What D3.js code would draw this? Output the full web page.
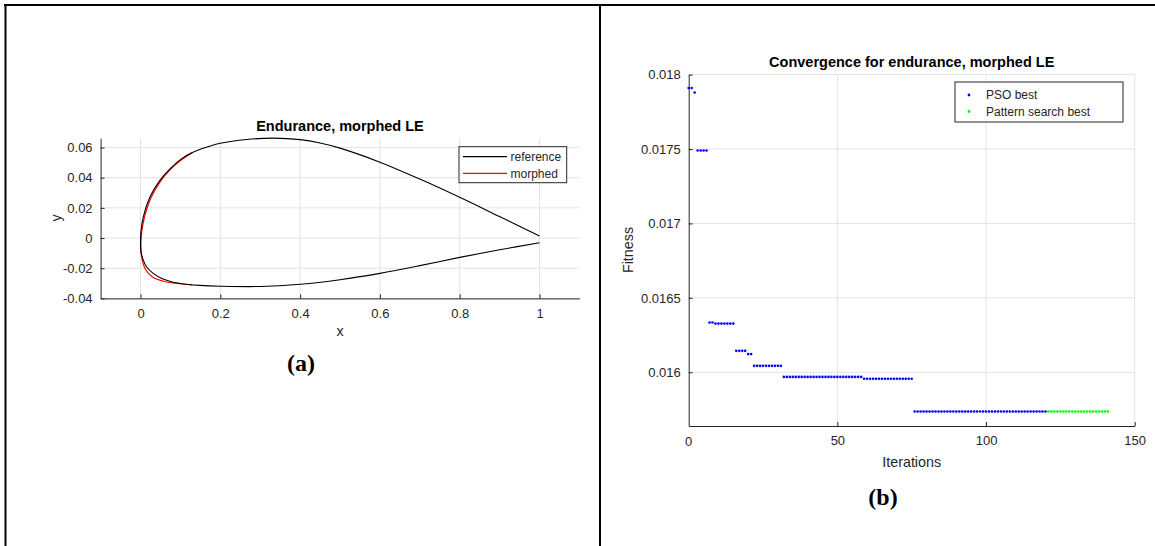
<!DOCTYPE html>
<html>
<head>
<meta charset="utf-8">
<script src="https://cdn.jsdelivr.net/npm/d3@7"></script>
<style>
  body { margin: 0; background: #fff; }
  svg { display: block; font-family: "Liberation Sans", Arial, sans-serif; }
</style>
</head>
<body>
<svg id="fig" width="1155" height="546"></svg>
<script>
// ---- data: panel (a), airfoil coordinates [x, y] ----
const refUpper = [
  [1.0, 0.0013], [0.9, 0.0142], [0.8, 0.0270], [0.7, 0.0391], [0.6, 0.0503],
  [0.5, 0.0596], [0.45, 0.0630], [0.4, 0.0652], [0.333, 0.0662], [0.266, 0.0653],
  [0.2, 0.0628], [0.17, 0.0606], [0.145, 0.0584], [0.12, 0.0554], [0.1, 0.0520],
  [0.075, 0.0462], [0.049, 0.0384], [0.024, 0.0274], [0.007, 0.0141], [0.001, 0.004],
  [0.0, -0.0033]
];
const refLower = [
  [0.001, -0.009], [0.007, -0.0146], [0.015, -0.019], [0.032, -0.0234], [0.055, -0.027],
  [0.082, -0.0293], [0.12, -0.0308], [0.149, -0.0314], [0.2, -0.0319], [0.3, -0.0321],
  [0.4, -0.0306], [0.5, -0.0276], [0.6, -0.0234], [0.7, -0.0183], [0.8, -0.0128],
  [0.9, -0.0078], [1.0, -0.0031]
];
const morphedLE = [
  [0.13, 0.0566], [0.1, 0.0514], [0.075, 0.0455], [0.05, 0.0376],
  [0.026, 0.0266], [0.01, 0.0139], [0.003, 0.004], [0.0008, -0.004], [0.003, -0.0125],
  [0.012, -0.0205], [0.03, -0.0258], [0.06, -0.0288], [0.1, -0.0303], [0.13, -0.0310]
];
const airfoilXTicks = [0, 0.2, 0.4, 0.6, 0.8, 1];
const airfoilYTicks = [-0.04, -0.02, 0, 0.02, 0.04, 0.06];

// ---- data: panel (b), convergence history ----
const psoIter = d3.range(0, 121);
const psoBest = [
  0.01791, 0.01791, 0.01788,
  0.01749, 0.01749, 0.01749, 0.01749,
  0.016334, 0.016334,
  0.016327, 0.016327, 0.016327, 0.016327, 0.016327, 0.016327, 0.016327,
  0.016144, 0.016144, 0.016144, 0.016144,
  0.016122, 0.016122,
  0.016043, 0.016043, 0.016043, 0.016043, 0.016043, 0.016043, 0.016043, 0.016043, 0.016043, 0.016043,
  0.015969, 0.015969, 0.015969, 0.015969, 0.015969, 0.015969, 0.015969, 0.015969, 0.015969, 0.015969,
  0.015969, 0.015969, 0.015969, 0.015969, 0.015969, 0.015969, 0.015969, 0.015969, 0.015969, 0.015969,
  0.015969, 0.015969, 0.015969, 0.015969, 0.015969, 0.015969, 0.015969,
  0.015956, 0.015956, 0.015956, 0.015956, 0.015956, 0.015956, 0.015956, 0.015956, 0.015956, 0.015956,
  0.015956, 0.015956, 0.015956, 0.015956, 0.015956, 0.015956, 0.015956,
  0.015736, 0.015736, 0.015736, 0.015736, 0.015736, 0.015736, 0.015736, 0.015736, 0.015736, 0.015736,
  0.015736, 0.015736, 0.015736, 0.015736, 0.015736, 0.015736, 0.015736, 0.015736, 0.015736, 0.015736,
  0.015736, 0.015736, 0.015736, 0.015736, 0.015736, 0.015736, 0.015736, 0.015736, 0.015736, 0.015736,
  0.015736, 0.015736, 0.015736, 0.015736, 0.015736, 0.015736, 0.015736, 0.015736, 0.015736, 0.015736,
  0.015736, 0.015736, 0.015736, 0.015736, 0.015736
];
const patternIter = d3.range(121, 142);
const patternBest = [
  0.015736, 0.015736, 0.015736, 0.015736, 0.015736, 0.015736, 0.015736,
  0.015736, 0.015736, 0.015736, 0.015736, 0.015736, 0.015736, 0.015736,
  0.015736, 0.015736, 0.015736, 0.015736, 0.015736, 0.015736, 0.015736
];
const convXTicks = [0, 50, 100, 150];
const convYTicks = [0.016, 0.0165, 0.017, 0.0175, 0.018];

const axisColor = "#262626", gridColor = "#e3e3e3";
const svg = d3.select("#fig");
svg.append("rect").attr("width", 1155).attr("height", 546).attr("fill", "#fff");

// MATLAB prints a plain hyphen for negatives
const fmt = d => d3.format("~g")(d).replace("\u2212", "-");

// draws left+bottom axes, inward ticks and grid (MATLAB style, box off)
function drawAxes(g, x, y, xt, yt) {
  const [x0, x1] = x.range(), [y0, y1] = y.range();
  // grid
  g.append("g").selectAll("line").data(xt).join("line")
    .attr("x1", d => x(d)).attr("x2", d => x(d)).attr("y1", y0).attr("y2", y1)
    .attr("stroke", gridColor).attr("stroke-width", 1);
  g.append("g").selectAll("line").data(yt).join("line")
    .attr("x1", x0).attr("x2", x1).attr("y1", d => y(d)).attr("y2", d => y(d))
    .attr("stroke", gridColor).attr("stroke-width", 1);
  // axes
  const xAxis = d3.axisBottom(x).tickValues(xt).tickFormat(fmt).tickSizeInner(-4).tickSizeOuter(0).tickPadding(10);
  const yAxis = d3.axisLeft(y).tickValues(yt).tickFormat(fmt).tickSizeInner(-4).tickSizeOuter(0).tickPadding(8);
  const gx = g.append("g").attr("transform", `translate(0,${y0})`).call(xAxis);
  const gy = g.append("g").attr("transform", `translate(${x0},0)`).call(yAxis);
  [gx, gy].forEach(a => {
    a.select(".domain").attr("stroke", axisColor);
    a.selectAll(".tick line").attr("stroke", axisColor);
    a.selectAll("text").attr("fill", axisColor).style("font-size", "13px")
      .style("font-family", "'Liberation Sans', Arial, sans-serif");
  });
}

// ---------------- panel (a) ----------------
const xa = d3.scaleLinear().domain([-0.1, 1.1]).range([100.6, 579.4]);
const ya = d3.scaleLinear().domain([-0.04, 0.0661]).range([298.4, 138.3]);
const ga = svg.append("g");
drawAxes(ga, xa, ya, airfoilXTicks, airfoilYTicks);

const foilLine = d3.line().x(d => xa(d[0])).y(d => ya(d[1])).curve(d3.curveCatmullRom.alpha(0.5));
ga.append("path").datum(morphedLE).attr("d", foilLine)
  .attr("fill", "none").attr("stroke", "#ff0000").attr("stroke-width", 1.2);
ga.append("path").datum(refUpper.concat(refLower)).attr("d", foilLine)
  .attr("fill", "none").attr("stroke", "#000").attr("stroke-width", 1.1);

ga.append("text").text("Endurance, morphed LE").attr("x", 340).attr("y", 131)
  .attr("text-anchor", "middle").attr("font-weight", "bold").attr("font-size", "14.5px").attr("fill", "#000");
ga.append("text").text("x").attr("x", 340).attr("y", 336)
  .attr("text-anchor", "middle").attr("font-size", "14.3px").attr("fill", axisColor);
ga.append("text").text("y").attr("transform", "translate(61,218) rotate(-90)")
  .attr("text-anchor", "middle").attr("font-size", "14.3px").attr("fill", axisColor);

// legend (a)
const la = ga.append("g").attr("transform", "translate(459,146.7)");
la.append("rect").attr("width", 107.7).attr("height", 36).attr("fill", "#fff")
  .attr("stroke", axisColor).attr("stroke-width", 1);
[["reference", "#000"], ["morphed", "#ff0000"]].forEach(([name, c], i) => {
  const yy = 10 + i * 16.6;
  la.append("line").attr("x1", 4).attr("x2", 48).attr("y1", yy).attr("y2", yy)
    .attr("stroke", c).attr("stroke-width", 1.2);
  la.append("text").text(name).attr("x", 51.5).attr("y", yy + 4.3)
    .attr("font-size", "12px").attr("fill", axisColor);
});

// ---------------- panel (b) ----------------
const xb = d3.scaleLinear().domain([0, 150]).range([688.7, 1134.7]);
const yb = d3.scaleLinear().domain([0.015639, 0.018]).range([426, 74.6]);
const gb = svg.append("g");
drawAxes(gb, xb, yb, convXTicks.filter(d => d > 0), convYTicks);
// x tick label at 0 (the tick itself sits on the y axis)
gb.append("text").text("0").attr("x", xb(0)).attr("y", 446)
  .attr("text-anchor", "middle").attr("font-size", "13px").attr("fill", axisColor);

gb.append("g").selectAll("circle").data(psoIter).join("circle")
  .attr("cx", d => xb(d)).attr("cy", (d, i) => yb(psoBest[i])).attr("r", 1.3)
  .attr("fill", "#0000ff");
gb.append("g").selectAll("circle").data(patternIter).join("circle")
  .attr("cx", d => xb(d)).attr("cy", (d, i) => yb(patternBest[i])).attr("r", 1.3)
  .attr("fill", "#00ff00");

gb.append("text").text("Convergence for endurance, morphed LE").attr("x", 911.7).attr("y", 67)
  .attr("text-anchor", "middle").attr("font-weight", "bold").attr("font-size", "14.5px").attr("fill", "#000");
gb.append("text").text("Iterations").attr("x", 911.7).attr("y", 467)
  .attr("text-anchor", "middle").attr("font-size", "14.3px").attr("fill", axisColor);
gb.append("text").text("Fitness").attr("transform", "translate(633,250) rotate(-90)")
  .attr("text-anchor", "middle").attr("font-size", "14.3px").attr("fill", axisColor);

// legend (b)
const lb = gb.append("g").attr("transform", "translate(955,82)");
lb.append("rect").attr("width", 168).attr("height", 40).attr("fill", "#fff")
  .attr("stroke", axisColor).attr("stroke-width", 1);
[["PSO best", "#0000ff"], ["Pattern search best", "#00ff00"]].forEach(([name, c], i) => {
  const yy = 13 + i * 16.5;
  lb.append("circle").attr("cx", 14).attr("cy", yy).attr("r", 1.4).attr("fill", c);
  lb.append("text").text(name).attr("x", 31).attr("y", yy + 4.3)
    .attr("font-size", "12px").attr("fill", axisColor);
});

// ---------------- sub-figure captions ----------------
svg.append("text").text("(a)").attr("x", 301).attr("y", 371).attr("text-anchor", "middle")
  .style("font-family", "'Liberation Serif', 'Times New Roman', serif")
  .attr("font-weight", "bold").attr("font-size", "24px").attr("fill", "#000");
svg.append("text").text("(b)").attr("x", 883).attr("y", 505).attr("text-anchor", "middle")
  .style("font-family", "'Liberation Serif', 'Times New Roman', serif")
  .attr("font-weight", "bold").attr("font-size", "24px").attr("fill", "#000");

// ---------------- table borders ----------------
svg.append("rect").attr("x", 4).attr("y", 4).attr("width", 1151).attr("height", 2).attr("fill", "#000");
svg.append("rect").attr("x", 4.5).attr("y", 4).attr("width", 2).attr("height", 542).attr("fill", "#000");
svg.append("rect").attr("x", 599).attr("y", 4).attr("width", 2).attr("height", 542).attr("fill", "#000");
</script>
</body>
</html>
